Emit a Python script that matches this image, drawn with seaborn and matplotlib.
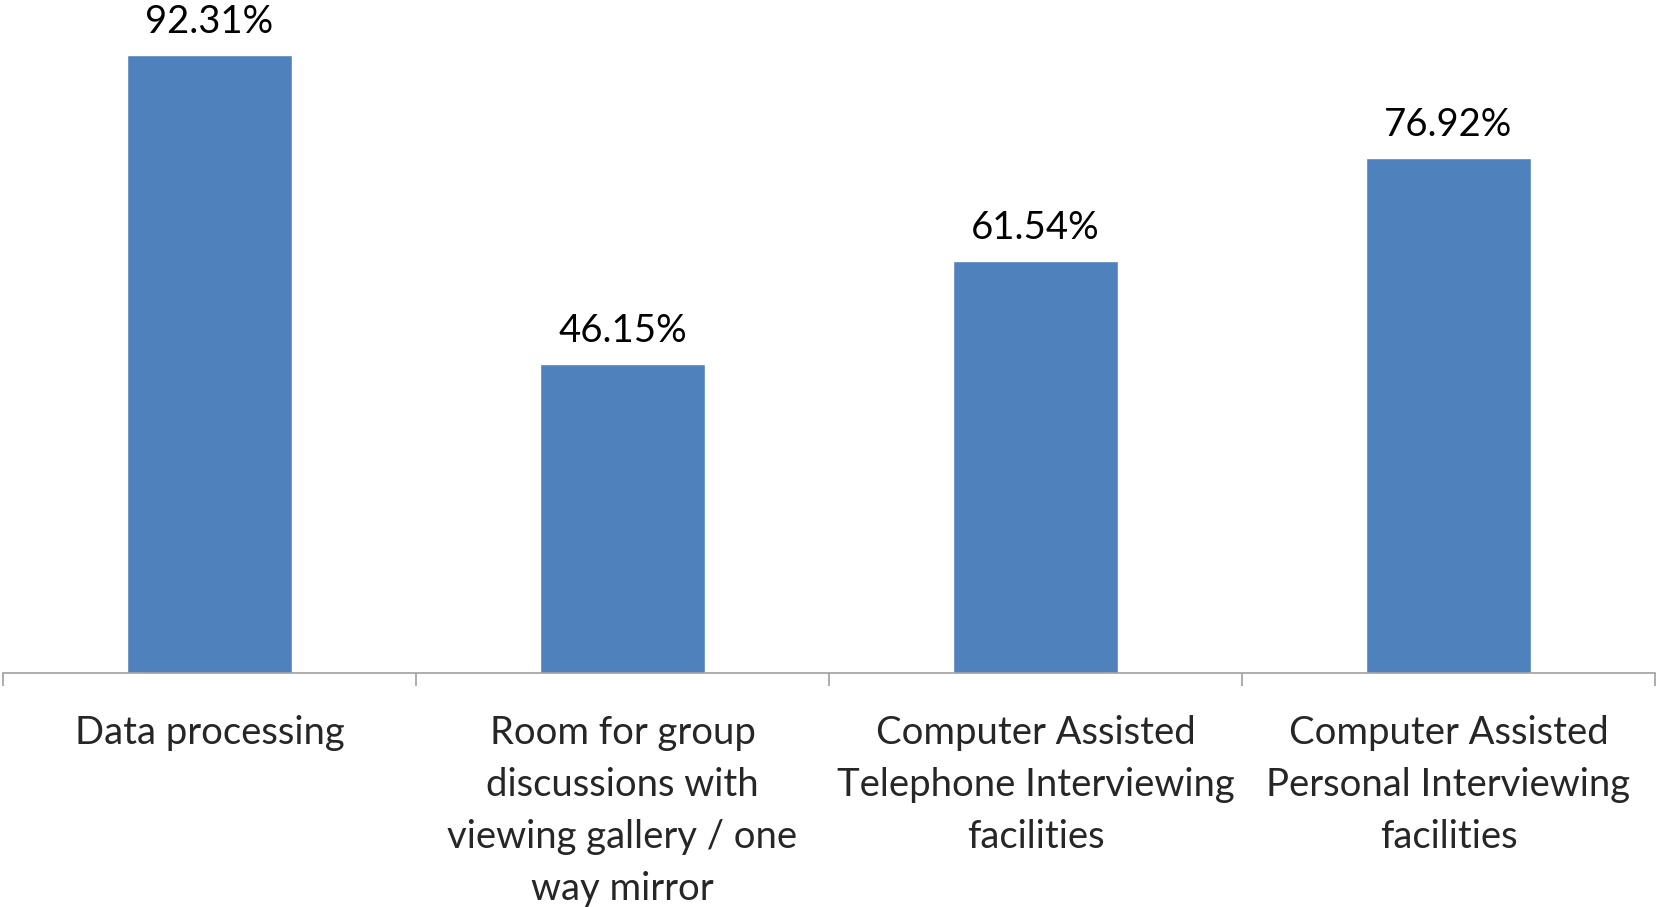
import matplotlib
matplotlib.use("Agg")
import matplotlib.pyplot as plt
import seaborn as sns
import pandas as pd

categories = [
    "Data processing",
    "Room for group\ndiscussions with\nviewing gallery / one\nway mirror",
    "Computer Assisted\nTelephone Interviewing\nfacilities",
    "Computer Assisted\nPersonal Interviewing\nfacilities",
]
values = [92.31, 46.15, 61.54, 76.92]
value_labels = ["92.31%", "46.15%", "61.54%", "76.92%"]

sns.set_theme(style="white")
plt.rcParams["font.family"] = ["Lato", "DejaVu Sans"]

W, H = 1657, 907
fig = plt.figure(figsize=(W / 100, H / 100), dpi=100)
ax = fig.add_axes([3 / W, (H - 673) / H, (1655 - 3) / W, (673 - 3) / H])

df = pd.DataFrame({"category": categories, "value": values})
sns.barplot(data=df, x="category", y="value", color="#4F81BD", saturation=1,
            width=0.40, ax=ax)

for i, (v, lab) in enumerate(zip(values, value_labels)):
    ax.annotate(lab, (i, v), xytext=(0, 10.5), textcoords="offset points",
                ha="center", va="bottom", fontsize=27.5, color="black")

ax.set_xlim(-0.5, len(categories) - 0.5)
ax.set_ylim(0, 100)
ax.set_xlabel("")
ax.set_ylabel("")
ax.set_yticks([])
ax.set_xticks(range(len(categories)))
ax.set_xticklabels(categories, fontsize=27.5, linespacing=1.55)
ax.set_xticks([i - 0.5 for i in range(len(categories) + 1)], minor=True)
ax.tick_params(axis="x", which="major", length=0, pad=30)
ax.tick_params(axis="x", which="minor", length=9.5, width=1.2, color="#A0A0A0",
               direction="out", bottom=True)

for side in ["top", "right", "left"]:
    ax.spines[side].set_visible(False)
ax.spines["bottom"].set_color("#A0A0A0")
ax.spines["bottom"].set_linewidth(1.2)

fig.savefig("out.png", dpi=100, facecolor="white")
